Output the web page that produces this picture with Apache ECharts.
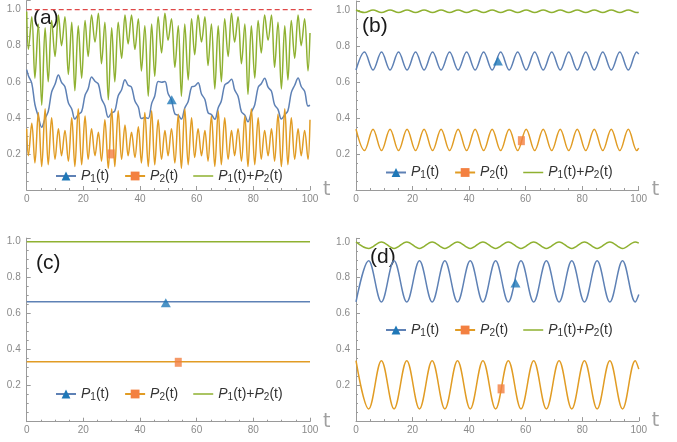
<!DOCTYPE html>
<html><head><meta charset="utf-8">
<script src="https://cdn.jsdelivr.net/npm/echarts@6/dist/echarts.min.js"></script>
<style>html,body{margin:0;padding:0;background:#fff}#c{width:677px;height:442px}</style>
</head><body><div id="c"></div>
<script>
// ---------- DATA ----------
// panel (a): times of the fast extrema and the values read there
const tA = [0,0.6,1.8,2.9,4.1,5.3,6.5,7.6,8.8,10.0,11.2,12.3,13.5,14.7,15.9,17.0,18.2,19.4,20.6,21.7,22.9,24.1,25.3,26.4,27.6,28.8,30.0,31.1,32.3,33.5,34.7,35.8,37.0,38.2,39.4,40.5,41.7,42.9,44.1,45.2,46.4,47.6,48.8,49.9,51.1,52.3,53.5,54.6,55.8,57.0,58.2,59.3,60.5,61.7,62.9,64.0,65.2,66.4,67.6,68.7,69.9,71.1,72.3,73.4,74.6,75.8,77.0,78.1,79.3,80.5,81.7,82.8,84.0,85.2,86.4,87.5,88.7,89.9,91.1,92.2,93.4,94.6,95.8,96.9,98.1,99.3,100];
const p1A = [0.667,0.634,0.591,0.474,0.407,0.348,0.398,0.435,0.543,0.586,
0.637,0.597,0.572,0.484,0.449,0.393,0.418,0.435,0.525,0.561,
0.627,0.603,0.587,0.506,0.467,0.403,0.427,0.438,0.522,0.556,
0.611,0.581,0.570,0.493,0.460,0.396,0.402,0.397,0.479,0.521,
0.602,0.598,0.602,0.535,0.499,0.422,0.415,0.393,0.455,0.491,
0.571,0.576,0.594,0.532,0.502,0.429,0.418,0.392,0.456,0.493,
0.582,0.595,0.614,0.555,0.520,0.434,0.415,0.378,0.431,0.473,
0.569,0.589,0.619,0.570,0.547,0.472,0.447,0.393,0.417,0.439,
0.540,0.581,0.621,0.574,0.547,0.465,0.470];
const p2A = [0.34,0.19,0.37,0.15,0.43,0.13,0.45,0.14,0.40,0.17,
0.34,0.19,0.33,0.16,0.40,0.13,0.45,0.14,0.41,0.17,
0.34,0.19,0.32,0.16,0.39,0.12,0.45,0.13,0.44,0.17,
0.36,0.19,0.32,0.18,0.35,0.15,0.43,0.13,0.44,0.14,
0.39,0.17,0.33,0.19,0.34,0.15,0.42,0.12,0.45,0.14,
0.40,0.18,0.34,0.19,0.33,0.16,0.41,0.13,0.44,0.14,
0.40,0.17,0.33,0.19,0.34,0.16,0.41,0.13,0.45,0.14,
0.40,0.17,0.33,0.19,0.34,0.16,0.42,0.13,0.45,0.14,
0.40,0.17,0.34,0.19,0.33,0.17,0.39];
const sumA = [0.99,0.78,0.96,0.62,0.92,0.47,0.90,0.60,0.94,0.74,
0.97,0.80,0.96,0.64,0.93,0.55,0.91,0.62,0.94,0.74,
0.97,0.82,0.98,0.70,0.93,0.50,0.90,0.60,0.93,0.73,
0.97,0.81,0.97,0.78,0.95,0.66,0.91,0.52,0.92,0.63,
0.96,0.76,0.98,0.83,0.95,0.68,0.91,0.52,0.92,0.61,
0.95,0.75,0.97,0.82,0.96,0.69,0.92,0.56,0.91,0.60,
0.95,0.74,0.98,0.82,0.96,0.70,0.92,0.53,0.91,0.62,
0.94,0.76,0.97,0.83,0.97,0.68,0.93,0.56,0.91,0.61,
0.94,0.73,0.97,0.80,0.95,0.66,0.87];
const refT = [0, 110.6];
const refV = [1.0, 1.0];

// panel (b)
const tB = [0,3.01,6.02,9.03,12.04,15.05,18.06,21.07,24.08,27.09,30.1,33.11,36.12,39.13,42.14,45.15,48.16,51.17,54.18,57.19,60.2,63.21,66.22,69.23,72.24,75.25,78.26,81.27,84.28,87.29,90.3,93.31,96.32,99.33,100];
const p1B = [0.667,0.767,0.667,0.767,0.667,0.767,0.667,0.767,0.667,0.767,0.667,0.767,0.667,0.767,0.667,0.767,0.667,0.767,0.667,0.767,0.667,0.767,0.667,0.767,0.667,0.767,0.667,0.767,0.667,0.767,0.667,0.767,0.667,0.767,0.755];
const p2B = [0.338,0.219,0.338,0.219,0.338,0.219,0.338,0.219,0.338,0.219,0.338,0.219,0.338,0.219,0.338,0.219,0.338,0.219,0.338,0.219,0.338,0.219,0.338,0.219,0.338,0.219,0.338,0.219,0.338,0.219,0.338,0.219,0.338,0.219,0.233];
const sumB = [1.0,0.986,1.0,0.986,1.0,0.986,1.0,0.986,1.0,0.986,1.0,0.986,1.0,0.986,1.0,0.986,1.0,0.986,1.0,0.986,1.0,0.986,1.0,0.986,1.0,0.986,1.0,0.986,1.0,0.986,1.0,0.986,1.0,0.986,0.988];

// panel (c)
const tC = [0, 100];
const p1C = [0.667, 0.667];
const p2C = [0.333, 0.333];
const sumC = [1.0, 1.0];

// panel (d)
const tD = [0,4.49,8.98,13.46,17.95,22.44,26.93,31.42,35.9,40.39,44.88,49.37,53.86,58.34,62.83,67.32,71.81,76.3,80.78,85.27,89.76,94.25,98.74,100];
const p1D = [0.665,0.895,0.665,0.895,0.665,0.895,0.665,0.895,0.665,0.895,0.665,0.895,0.665,0.895,0.665,0.895,0.665,0.895,0.665,0.895,0.665,0.895,0.665,0.707];
const p2D = [0.337,0.068,0.337,0.068,0.337,0.068,0.337,0.068,0.337,0.068,0.337,0.068,0.337,0.068,0.337,0.068,0.337,0.068,0.337,0.068,0.337,0.068,0.337,0.29];
const sumD = [1.0,0.963,1.0,0.963,1.0,0.963,1.0,0.963,1.0,0.963,1.0,0.963,1.0,0.963,1.0,0.963,1.0,0.963,1.0,0.963,1.0,0.963,1.0,0.993];

// single markers placed on the curves (panels a, b, c, d)
const triT = [51.2, 50.2, 49.1, 56.4];
const triV = [0.50, 0.717, 0.661, 0.771];
const sqT = [29.8, 58.5, 53.5, 51.3];
const sqV = [0.20, 0.274, 0.33, 0.18];

const panelLabels = ['(a)', '(b)', '(c)', '(d)'];
const xTicks = [0, 20, 40, 60, 80, 100];
const yTicks = [0.2, 0.4, 0.6, 0.8, 1.0];

// ---------- STYLE / LAYOUT ----------
const FONT = '"Liberation Sans", Arial, sans-serif';
const C1 = '#5e81b5', C2 = '#e19c24', C3 = '#8fb131';
const M1 = '#1f78b8', M2 = '#f38041';
const AX = '#9a9a9a', LBL = '#8a8a8a';

const panels = [
  {t:tA, p1:p1A, p2:p2A, s:sumA, grid:{left:26.7, top:0.6, width:283.3, height:189.4}, ymax:1.05, leg:{left:55, top:169}, lab:[33,20]},
  {t:tB, p1:p1B, p2:p2B, s:sumB, grid:{left:356, top:1, width:282.7, height:189}, ymax:1.05, leg:{left:385, top:165.5}, lab:[362,28]},
  {t:tC, p1:p1C, p2:p2C, s:sumC, grid:{left:26.7, top:238.1, width:283.3, height:183.6}, ymax:1.02, leg:{left:55, top:387}, lab:[36,265]},
  {t:tD, p1:p1D, p2:p2D, s:sumD, grid:{left:356, top:238.3, width:282.8, height:182.8}, ymax:1.02, leg:{left:385, top:323}, lab:[370,259]}
];
const zip = (xs, ys) => xs.map((x, i) => [x, ys[i]]);
const sfx = ['a','b','c','d'];

const grid = [], xAxis = [], yAxis = [], series = [], legend = [], graphic = [];
panels.forEach((p, g) => {
  grid.push(Object.assign({containLabel:false}, p.grid));
  xAxis.push({
    gridIndex:g, type:'value', min:xTicks[0], max:xTicks[xTicks.length-1], interval:xTicks[1]-xTicks[0],
    axisLine:{onZero:false, lineStyle:{color:AX, width:1}},
    axisTick:{inside:true, length:4, lineStyle:{color:AX}},
    minorTick:{show:true, splitNumber:4, length:2, lineStyle:{color:AX}},
    splitLine:{show:false},
    axisLabel:{color:LBL, fontSize:10, margin:4, fontFamily:FONT},
    name:'t', nameLocation:'end', nameGap:13,
    nameTextStyle:{color:'#a0a0a0', fontSize:19, fontFamily:'"DejaVu Sans", sans-serif', verticalAlign:'middle'}
  });
  yAxis.push({
    gridIndex:g, type:'value', min:0, max:p.ymax, interval:yTicks[1]-yTicks[0],
    axisLine:{onZero:false, lineStyle:{color:AX, width:1}},
    axisTick:{inside:true, length:4, lineStyle:{color:AX}},
    minorTick:{show:true, splitNumber:4, length:2, lineStyle:{color:AX}},
    splitLine:{show:false},
    axisLabel:{color:LBL, fontSize:10, margin:6, fontFamily:FONT, showMaxLabel:false,
      formatter:v => yTicks.some(k => Math.abs(k - v) < 1e-6) ? v.toFixed(1) : ''}
  });
  const common = {type:'line', xAxisIndex:g, yAxisIndex:g, smooth:0.36, showSymbol:false, clip:true, animation:false, silent:true};
  series.push(Object.assign({}, common, {name:'P1'+sfx[g], data:zip(p.t, p.p1), symbol:'triangle', itemStyle:{color:M1}, lineStyle:{color:C1, width:1.5}}));
  series.push(Object.assign({}, common, {name:'P2'+sfx[g], data:zip(p.t, p.p2), symbol:'rect', itemStyle:{color:M2}, lineStyle:{color:C2, width:1.5}}));
  series.push(Object.assign({}, common, {name:'S'+sfx[g], data:zip(p.t, p.s), symbol:'none', itemStyle:{color:C3}, lineStyle:{color:C3, width:1.5}}));
  if (g === 0) {
    series.push({type:'line', xAxisIndex:0, yAxisIndex:0, data:zip(refT, refV), showSymbol:false, clip:false, animation:false, silent:true,
      itemStyle:{color:'#e04848'}, lineStyle:{color:'#e04848', width:1.2, type:[5,3], opacity:1}, z:3});
  }
  series.push({type:'scatter', xAxisIndex:g, yAxisIndex:g, data:[[triT[g], triV[g]]], symbol:'triangle', symbolSize:[10,9], itemStyle:{color:M1}, animation:false, silent:true, z:5});
  series.push({type:'scatter', xAxisIndex:g, yAxisIndex:g, data:[[sqT[g], sqV[g]]], symbol:'rect', symbolSize:[7,9], itemStyle:{color:M2}, animation:false, silent:true, z:5});

  legend.push({
    left:p.leg.left, top:p.leg.top, orient:'horizontal', padding:0, itemGap:15, itemWidth:20, itemHeight:11,
    selectedMode:false,
    data:[{name:'P1'+sfx[g]}, {name:'P2'+sfx[g]},
          {name:'S'+sfx[g], icon:'path://M0,0L0.05,0L0.05,0.05ZM0,4.7H20V6.3H0ZM19.95,10.95L20,11L19.95,11Z'}],
    formatter:n => n[0] === 'S' ? '{i|P}{s|1}{n|(t)+}{i|P}{s|2}{n|(t)}' : '{i|P}{s|' + n[1] + '}{n|(t)}',
    textStyle:{color:'#333', fontFamily:FONT, fontSize:14, padding:[0,0,0,0],
      rich:{ i:{fontStyle:'italic', fontSize:14, lineHeight:16, fontFamily:FONT, color:'#333'},
             s:{fontSize:10, lineHeight:10, verticalAlign:'bottom', fontFamily:FONT, color:'#333'},
             n:{fontSize:14, lineHeight:16, fontFamily:FONT, color:'#333'} }}
  });
  graphic.push({type:'text', left:p.lab[0], top:p.lab[1] - 12, silent:true,
    style:{text:panelLabels[g], fill:'#1a1a1a', font:'21px ' + FONT}});
});

const chart = echarts.init(document.getElementById('c'), null, {renderer:'canvas'});
chart.setOption({backgroundColor:'#fff', animation:false, grid, xAxis, yAxis, series, legend, graphic});
</script></body></html>
